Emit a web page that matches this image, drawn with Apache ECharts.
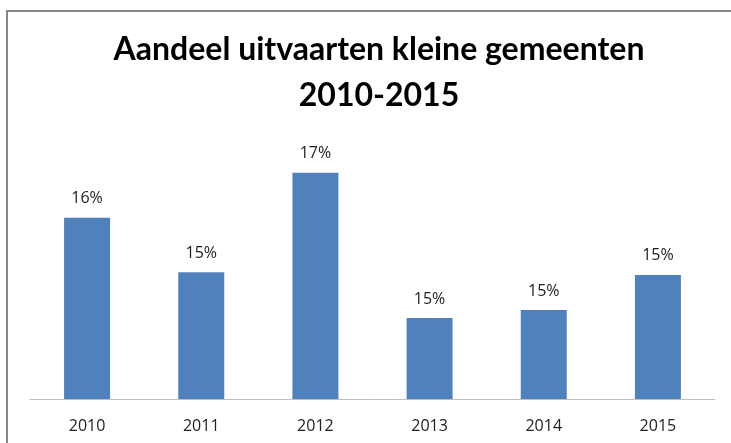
<!DOCTYPE html>
<html>
<head>
<meta charset="utf-8">
<script src="https://cdn.jsdelivr.net/npm/echarts@6/dist/echarts.min.js"></script>
<style>
  html, body { margin: 0; padding: 0; background: #fff; }
  #chart { width: 731px; height: 443px; }
</style>
</head>
<body>
<div id="chart"></div>
<script>
const years = ['2010', '2011', '2012', '2013', '2014', '2015']
const shares = [16.06, 15.44, 16.57, 14.92, 15.01, 15.41]

const chart = echarts.init(document.getElementById('chart'))

const option = {
  animation: false,
  title: {
    text: 'Aandeel uitvaarten kleine gemeenten\n2010-2015',
    left: 374,
    textAlign: 'center',
    top: 22,
    textStyle: {
      fontFamily: 'Lato',
      fontSize: 32,
      fontWeight: 'bold',
      color: '#000',
      lineHeight: 46
    }
  },
  graphic: [
    {
      type: 'polyline',
      shape: { points: [[7, 443], [7, 11], [731, 11]] },
      style: { stroke: '#878787', lineWidth: 2, fill: null }
    }
  ],
  grid: {
    left: 30,
    right: 16,
    top: 135,
    bottom: 44
  },
  xAxis: {
    type: 'category',
    data: years,
    axisLine: { lineStyle: { color: '#bfbfbf', width: 1 } },
    axisTick: { show: false },
    axisLabel: {
      color: '#222',
      fontFamily: 'Open Sans',
      fontSize: 16,
      margin: 19
    }
  },
  yAxis: {
    type: 'value',
    min: 14,
    max: 17,
    show: false,
    splitLine: { show: false }
  },
  series: [
    {
      type: 'bar',
      data: shares,
      barWidth: 46,
      itemStyle: { color: '#4f81bd' },
      label: {
        show: true,
        position: 'top',
        distance: 11,
        color: '#222',
        fontFamily: 'Open Sans',
        fontSize: 16,
        formatter: p => Math.round(p.value) + '%'
      }
    }
  ]
}

chart.setOption(option)
</script>
</body>
</html>
